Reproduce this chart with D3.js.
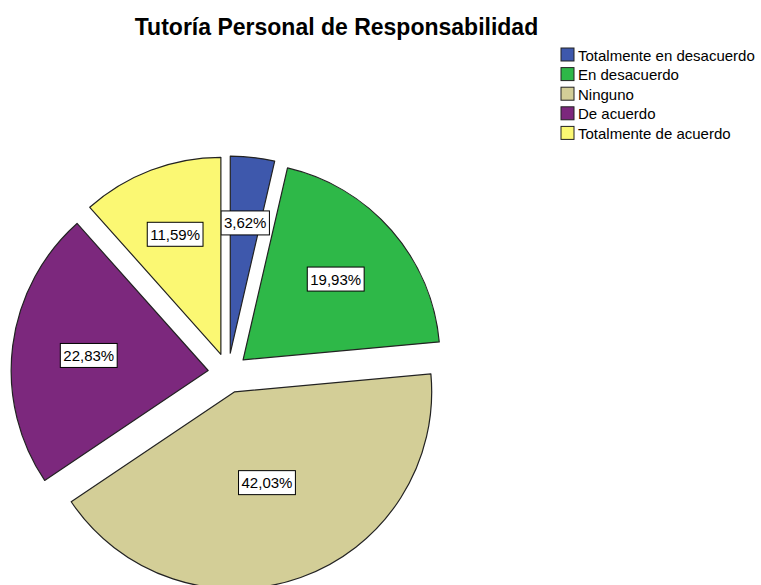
<!DOCTYPE html>
<html>
<head>
<meta charset="utf-8">
<script src="https://cdn.jsdelivr.net/npm/d3@7"></script>
<style>
  html, body { margin: 0; padding: 0; background: #fff; }
  svg { display: block; font-family: "Liberation Sans", Arial, sans-serif; }
</style>
</head>
<body>
<svg id="chart" width="761" height="585"></svg>
<script>
const title = "Tutoría Personal de Responsabilidad";
const categories = ["Totalmente en desacuerdo", "En desacuerdo", "Ninguno", "De acuerdo", "Totalmente de acuerdo"];
const percents = [3.62, 19.93, 42.03, 22.83, 11.59];
const colors = ["#3E58AC", "#2EB848", "#D3CE97", "#7C287D", "#FBF873"];
const labels = percents.map(v => v.toFixed(2).replace(".", ",") + "%");

const svg = d3.select("#chart");
const cx = 228, cy = 373, R = 197, explode = 20;

svg.append("text")
  .attr("x", 336.5).attr("y", 34.5)
  .attr("text-anchor", "middle")
  .attr("font-size", 23).attr("font-weight", "bold")
  .attr("fill", "#000")
  .text(title);

const data = categories.map((c, i) => ({ cat: c, value: percents[i], color: colors[i], label: labels[i] }));
const pie = d3.pie().value(d => d.value).sort(null);
const arcs = pie(data);
const arc = d3.arc().innerRadius(0).outerRadius(R);

const g = svg.append("g").attr("transform", `translate(${cx},${cy})`);

const slices = g.selectAll("g.slice").data(arcs).enter().append("g")
  .attr("class", "slice")
  .attr("transform", d => {
    const m = (d.startAngle + d.endAngle) / 2;
    return `translate(${Math.sin(m) * explode},${-Math.cos(m) * explode})`;
  });

slices.append("path")
  .attr("d", arc)
  .attr("fill", d => d.data.color)
  .attr("stroke", "#222")
  .attr("stroke-width", 1.2)
  .attr("stroke-linejoin", "round");

slices.each(function(d) {
  const m = (d.startAngle + d.endAngle) / 2;
  const a = (d.endAngle - d.startAngle) / 2;
  const dist = 2 * R * Math.sin(a) / (3 * a);
  const x = Math.sin(m) * dist, y = -Math.cos(m) * dist;
  const lg = d3.select(this).append("g").attr("transform", `translate(${x},${y})`);
  const t = lg.append("text")
    .attr("text-anchor", "middle")
    .attr("dominant-baseline", "central")
    .attr("font-size", 15)
    .attr("fill", "#000")
    .text(d.data.label);
  const bb = t.node().getBBox();
  lg.insert("rect", "text")
    .attr("x", bb.x - 3).attr("y", -12)
    .attr("width", bb.width + 6).attr("height", 24)
    .attr("fill", "#fff").attr("stroke", "#000").attr("stroke-width", 1);
});

const legend = svg.append("g").attr("transform", "translate(561,48)");
const rowH = 19.6;
const items = legend.selectAll("g").data(data).enter().append("g")
  .attr("transform", (d, i) => `translate(0,${i * rowH})`);
items.append("rect")
  .attr("width", 13).attr("height", 13)
  .attr("fill", d => d.color)
  .attr("stroke", "#222").attr("stroke-width", 1);
items.append("text")
  .attr("x", 17).attr("y", 7)
  .attr("dominant-baseline", "central")
  .attr("font-size", 15)
  .attr("fill", "#000")
  .text(d => d.cat);
</script>
</body>
</html>
